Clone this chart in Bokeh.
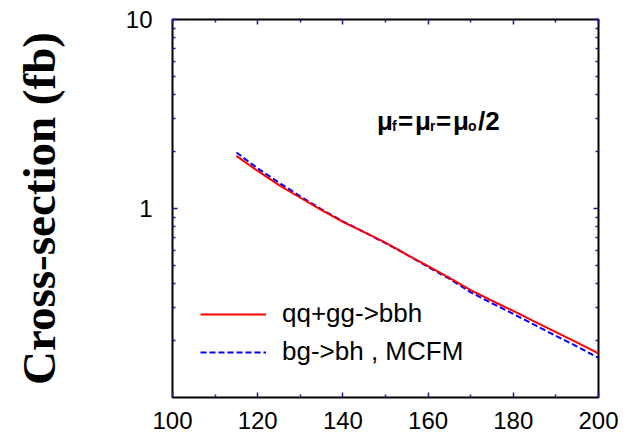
from bokeh.plotting import figure
from bokeh.models import (Range1d, LinearAxis, LogAxis, FixedTicker, Legend,
                          LegendItem, Label, ColumnDataSource)
from bokeh.embed import file_html
from bokeh.resources import INLINE

# ---- data ----
mass = [115, 120, 125, 130, 135, 140, 145, 150, 155, 160,
        165, 170, 175, 180, 185, 190, 195, 200]
xsec_qqgg = [1.90, 1.58, 1.33, 1.14, 0.98, 0.85, 0.75, 0.66, 0.57, 0.495,
             0.43, 0.37, 0.325, 0.287, 0.252, 0.222, 0.195, 0.171]
xsec_bg = [1.98, 1.63, 1.37, 1.16, 0.99, 0.855, 0.75, 0.655, 0.57, 0.49,
           0.425, 0.36, 0.315, 0.277, 0.242, 0.212, 0.186, 0.162]

label_qqgg = "qq+gg->bbh"
label_bg = "bg->bh , MCFM"

x_ticks = [100, 120, 140, 160, 180, 200]
x_minor = [110, 130, 150, 170, 190]
y_ticks = [1, 10]
y_tick_labels = ["1", "10"]
y_minor_base = [2, 3, 4, 5, 6, 7, 8, 9]
y_minor = [b * 0.1 for b in y_minor_base] + y_minor_base

TICK_COLOR = "#1a1a8c"
SANS = "Liberation Sans"

p = figure(width=630, height=436, y_axis_type="log",
           x_range=Range1d(100, 200), y_range=Range1d(0.1, 10),
           output_backend="svg", toolbar_location=None,
           min_border_left=172, min_border_right=32,
           min_border_top=19, min_border_bottom=39)
p.grid.visible = False
p.outline_line_color = "black"
p.outline_line_width = 2
p.background_fill_color = "white"
p.border_fill_color = "white"


def style_axis(ax, ticks, show_labels=True):
    ax.axis_line_color = None
    ax.major_tick_in = 5
    ax.major_tick_out = 0
    ax.minor_tick_in = 3
    ax.minor_tick_out = 0
    ax.major_tick_line_color = TICK_COLOR
    ax.minor_tick_line_color = TICK_COLOR
    ax.major_tick_line_width = 1.5
    ax.minor_tick_line_width = 1.5
    ax.major_label_text_font = SANS
    ax.major_label_text_color = "black"
    if show_labels:
        ax.major_label_text_font_size = "24px"
    else:
        ax.major_label_text_font_size = "2px"
        ax.major_label_text_color = None
        ax.major_label_standoff = 0
        ax.major_label_overrides = {t: "" for t in ticks}


xa = p.xaxis[0]
xa.ticker = FixedTicker(ticks=x_ticks, minor_ticks=x_minor)
style_axis(xa, x_ticks)
xa.major_label_standoff = 14

ya = p.yaxis[0]
ya.ticker = FixedTicker(ticks=y_ticks, minor_ticks=y_minor)
ya.major_label_overrides = {t: s for t, s in zip(y_ticks, y_tick_labels)}
style_axis(ya, y_ticks)
ya.major_label_standoff = 20
ya.axis_label = "Cross-section (fb)"
ya.axis_label_text_font = "Liberation Serif"
ya.axis_label_text_font_style = "bold"
ya.axis_label_text_font_size = "47px"
ya.axis_label_text_color = "black"
ya.axis_label_standoff = 58

top = LinearAxis(ticker=FixedTicker(ticks=x_ticks, minor_ticks=x_minor))
style_axis(top, x_ticks, show_labels=False)
p.add_layout(top, "above")

right = LogAxis(ticker=FixedTicker(ticks=y_ticks, minor_ticks=y_minor))
style_axis(right, y_ticks, show_labels=False)
p.add_layout(right, "right")

src = ColumnDataSource(dict(x=mass, a=xsec_qqgg, b=xsec_bg))
r_bg = p.line("x", "b", source=src, line_color="#0000ff", line_width=2,
              line_dash="6 3")
r_qq = p.line("x", "a", source=src, line_color="#ff0000", line_width=2)

legend = Legend(items=[LegendItem(label=label_qqgg, renderers=[r_qq]),
                       LegendItem(label=label_bg, renderers=[r_bg])],
                location=(28, 30), border_line_color=None,
                background_fill_alpha=0, padding=0, margin=0, spacing=7,
                glyph_width=66, glyph_height=30, label_height=30,
                label_standoff=16, label_text_font=SANS,
                label_text_font_size="26px", label_text_color="black")
p.add_layout(legend, "center")

# annotation  mu_f = mu_r = mu_0 / 2
ann_x, ann_y = 148, 2.89
pieces = [("\u03bc", 0, 0, "26px"), ("f", 15, -5, "14px"),
          ("=", 21, 0, "26px"), ("\u03bc", 38, 0, "26px"),
          ("r", 53, -5, "14px"), ("=", 59, 0, "26px"),
          ("\u03bc", 76, 0, "26px"), ("o", 91, -5, "14px"),
          ("/2", 101, 0, "26px")]
for txt, dx, dy, fs in pieces:
    p.add_layout(Label(x=ann_x, y=ann_y, x_offset=dx, y_offset=dy, text=txt,
                       text_font=SANS, text_font_style="bold",
                       text_font_size=fs, text_color="black",
                       text_baseline="alphabetic"))

open("out.html", "w").write(file_html(p, INLINE))
